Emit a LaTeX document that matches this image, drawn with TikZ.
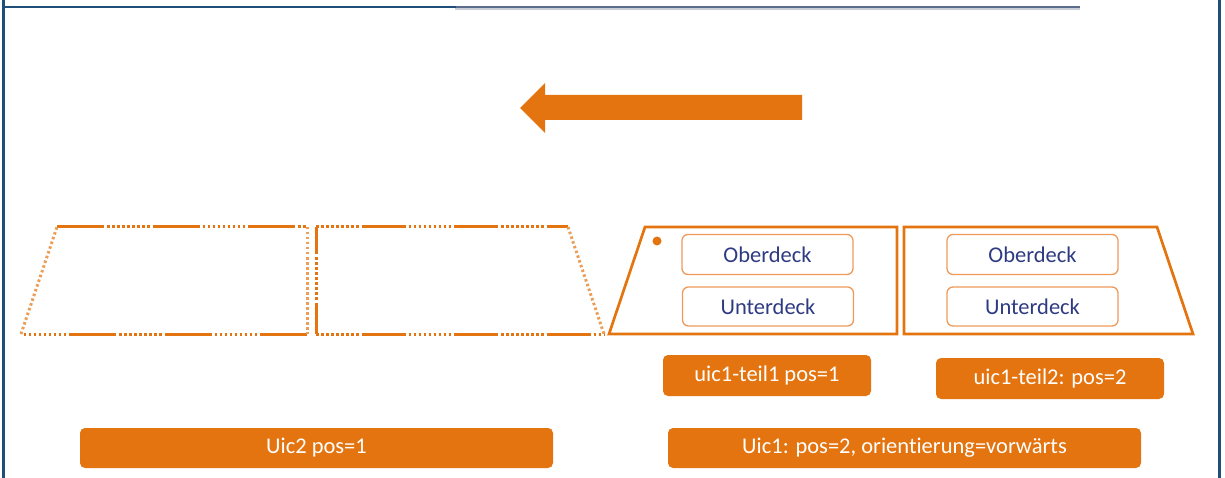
\documentclass[tikz,border=0pt]{standalone}
\usepackage{fontspec}
\setmainfont[RawFeature={-liga}]{Carlito}
\definecolor{dborange}{HTML}{E3740F}
\definecolor{frameblue}{HTML}{1F4E79}
\definecolor{railgray}{HTML}{5B6B8C}
\definecolor{railshadow}{HTML}{C9CDD6}
\definecolor{decktext}{HTML}{2E3B82}
\definecolor{deckline}{HTML}{EE9A5A}
\begin{document}
\begin{tikzpicture}[x=1pt,y=-1pt,
  carline/.style={draw=dborange,line width=3pt},
  dashfirst/.style={carline,dash pattern=on 47pt off 3pt on 2.5pt off 2.5pt on 2.5pt off 2.5pt on 2.5pt off 2.5pt on 2.5pt off 2.5pt on 2.5pt off 2.5pt on 2.5pt off 2.5pt on 2.5pt off 2.5pt on 2.5pt off 2.5pt on 2.5pt off 3pt},
  dotsfirst/.style={carline,dash pattern=on 2.5pt off 2.5pt on 2.5pt off 2.5pt on 2.5pt off 2.5pt on 2.5pt off 2.5pt on 2.5pt off 2.5pt on 2.5pt off 2.5pt on 2.5pt off 2.5pt on 2.5pt off 2.5pt on 2.5pt off 3pt on 44pt off 3pt},
  dotline/.style={draw=dborange!70,line width=3pt,dash pattern=on 2.5pt off 2.5pt},
  deckbox/.style={draw=deckline,line width=1.3pt,rounded corners=6pt,minimum width=171pt,minimum height=40pt,
    font=\fontsize{22.5}{27}\selectfont,text=decktext,inner sep=0pt},
  tag/.style={fill=dborange,rounded corners=5pt,text=white,font=\fontsize{22.5}{27}\selectfont,inner sep=0pt,minimum height=41pt}
]
\useasboundingbox (0,0) rectangle (1225,478);

% frame
\draw[frameblue,line width=3pt] (3,0) -- (3,478);
\draw[frameblue,line width=3pt] (1219.5,0) -- (1219.5,478);
\draw[railshadow,line width=2pt] (455,9.5) -- (1080,9.5);
\draw[railgray,line width=2.5pt] (455,7) -- (1080,7);
\draw[frameblue,line width=2.5pt] (3,7) -- (456,7);

% direction arrow
\fill[dborange] (802,95) -- (545,95) -- (545,83) -- (520,108) -- (545,133) -- (545,120) -- (802,120) -- cycle;

% uic2, first car (dashed outline)
\coordinate (aTL) at (57,227);  \coordinate (aTR) at (307,227);
\coordinate (aBL) at (21,334);  \coordinate (aBR) at (307,334);
\draw[dashfirst] (aTL) -- (aTR);
\draw[dashfirst] (aBR) -- (aBL);
\draw[dotline] (aBL) -- (aTL);
\draw[dotline] (aTR) -- (aBR);

% uic2, second car (dashed outline)
\coordinate (bTL) at (316,227); \coordinate (bTR) at (568,227);
\coordinate (bBL) at (316,334); \coordinate (bBR) at (604,334);
\draw[dotsfirst] (bTL) -- (bTR);
\draw[dotsfirst] (bBL) -- (bBR);
\draw[dashfirst,dash phase=20pt] (bTL) -- (bBL);
\draw[dotline] (bTR) -- (bBR);

% uic1, part 1
\draw[carline,line width=2.7pt,line join=miter] (645,227) -- (897,227) -- (897,334) -- (609,334) -- cycle;
\fill[dborange] (657,241) circle (4.5pt);
\node[deckbox] (ob1) at (767.5,254.5) {Oberdeck};
\node[deckbox,minimum height=39pt] (ub1) at (768,306.5) {Unterdeck};

% uic1, part 2
\draw[carline,line width=2.7pt,line join=miter] (904,227) -- (1157,227) -- (1193,334) -- (904,334) -- cycle;
\node[deckbox] (ob2) at (1032.5,254.5) {Oberdeck};
\node[deckbox,minimum height=39pt] (ub2) at (1032.5,306.5) {Unterdeck};

% labels
\node[tag,minimum width=208pt] (t1) at (767,375.5) {uic1-teil1 pos=1};
\node[tag,minimum width=228pt] (t2) at (1050,378.5) {uic1-teil2: pos=2};
\node[tag,minimum width=473pt,minimum height=40pt] (u1) at (904.5,448) {Uic1: pos=2, orientierung=vorwärts};
\node[tag,minimum width=473pt,minimum height=40pt] (u2) at (316.5,448) {Uic2 pos=1};
\end{tikzpicture}
\end{document}
